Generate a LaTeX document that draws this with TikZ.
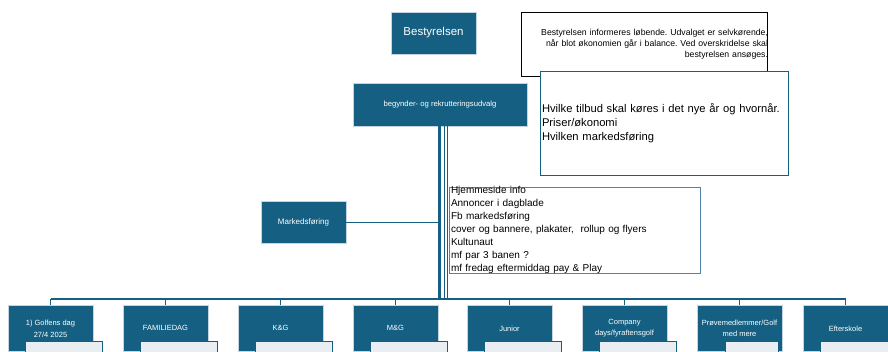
\documentclass[tikz,border=0pt]{standalone}
\usepackage{fontspec}
\setmainfont{Liberation Sans}
\usetikzlibrary{positioning}
\definecolor{orgblue}{HTML}{156082}
\definecolor{orgedge}{HTML}{C3D5E0}
\definecolor{notecol}{HTML}{4F84A4}
\definecolor{subfill}{HTML}{E8EEF2}
\frenchspacing

\begin{document}
\begin{tikzpicture}[x=1pt,y=-1pt,
	unit/.style={draw=orgedge,line width=0.8pt,fill=orgblue,text=white,align=center,
		minimum width=85pt,minimum height=42pt,inner sep=1pt,font=\fontsize{7.5}{11}\selectfont},
	sub/.style={draw=orgblue,line width=0.7pt,fill=subfill,minimum width=77pt,minimum height=20pt,anchor=north west},
	note/.style={fill=white,line width=0.9pt,inner ysep=0pt,font=\fontsize{10}{13.5}\selectfont,align=left},
	link/.style={orgblue,line width=0.8pt}]

\useasboundingbox (0,0) rectangle (888,351);
\clip (0,0) rectangle (888,351);

\node[unit,font=\fontsize{11.5}{13}\selectfont] (best) at (433.5,33) {Bestyrelsen};
\node[unit,minimum width=174pt,minimum height=43pt,font=\fontsize{7.7}{9}\selectfont] (udvalg) at (440,104.5) {begynder- og rekrutteringsudvalg};
\node[unit,font=\fontsize{8}{9}\selectfont] (mf) at (303.5,222) {Markedsføring};

\node[note,draw=black,minimum height=64pt,text width=248pt,inner xsep=-1pt,align=right,
	font=\fontsize{8.7}{11}\selectfont] (info) at (644,44)
	{Bestyrelsen informeres løbende. Udvalget er selvkørende,\\
	når blot økonomien går i balance. Ved overskridelse skal\\
	bestyrelsen ansøges.};
\node[note,draw=orgblue,minimum width=248pt,minimum height=104pt,text width=244pt,inner xsep=2pt,
	font=\fontsize{11.2}{14}\selectfont] (tilbud) at (664,123)
	{Hvilke tilbud skal køres i det nye år og hvornår.\\
	Priser/økonomi\\
	Hvilken markedsføring};
\node[note,draw=notecol,minimum width=251pt,minimum height=86pt,text width=247pt,inner xsep=2pt,inner ysep=-1pt,
	font=\fontsize{10}{13}\selectfont] (kanaler) at (574.5,230)
	{Hjemmeside info\\
	Annoncer i dagblade\\
	Fb markedsføring\\
	cover og bannere, plakater,~ rollup og flyers\\
	Kultunaut\\
	mf par 3 banen ?\\
	mf fredag eftermiddag pay \& Play};

% activities
\node[unit,anchor=north,minimum height=46pt] (golf) at (50.5,305) {1) Golfens dag\\[1pt] 27/4 2025};
\node[unit,anchor=north,minimum height=46pt] (fam) at (165.5,305) {FAMILIEDAG};
\node[unit,anchor=north,minimum height=46pt] (kg) at (280.5,305) {K\&G};
\node[unit,anchor=north,minimum height=46pt] (mg) at (395.5,305) {M\&G};
\node[unit,anchor=north,minimum height=46pt] (jun) at (509.5,305) {Junior};
\node[unit,anchor=north,minimum height=46pt] (comp) at (624.5,305) {Company\\ days/fyraftensgolf};
\node[unit,anchor=north,minimum height=46pt] (prove) at (739.5,305) {Prøvemedlemmer/Golf\\ med mere};
\node[unit,anchor=north,minimum height=46pt] (eft) at (845.5,305) {Efterskole};

\coordinate (bus) at (0,299);
\coordinate (subtop) at (0,341);

\foreach \u in {golf,fam,kg,mg,jun,comp,eft}
	\node[sub] (\u-sub) at ([xshift=17pt]\u.north west |- subtop) {};
\node[sub,minimum width=53pt] (prove-sub) at ([xshift=28pt]prove.north west |- subtop) {};

\draw[orgblue,line width=3.5pt] ([xshift=-0.5pt]udvalg.south) -- ([xshift=-0.5pt]udvalg.south |- bus);
\draw[link] ([xshift=4.5pt]udvalg.south) -- ([xshift=4.5pt]udvalg.south |- bus);
\draw[link] ([xshift=7pt]udvalg.south) -- ([xshift=7pt]udvalg.south |- bus);
\draw[link] (mf.east) -- (mf.east -| udvalg.south);

\draw[orgblue,line width=1.5pt] (golf.north |- bus) -- (eft.north |- bus);
\foreach \u in {golf,fam,kg,mg,jun,comp,prove,eft}
	\draw[link] (\u.north |- bus) -- (\u.north);

\end{tikzpicture}
\end{document}
